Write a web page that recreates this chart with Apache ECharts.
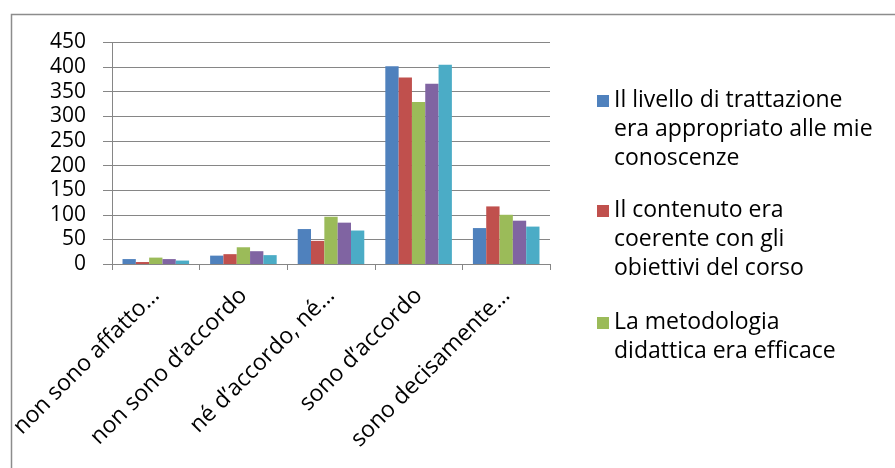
<!DOCTYPE html>
<html>
<head>
<meta charset="utf-8">
<script src="https://cdn.jsdelivr.net/npm/echarts@6/dist/echarts.min.js"></script>
<style>html,body{margin:0;padding:0;background:#fff}#c{width:895px;height:468px}</style>
</head>
<body>
<div id="c"></div>
<script>
var categories = ['non sono affatto…', 'non sono d’accordo', 'né d’accordo, né…', 'sono d’accordo', 'sono decisamente…'];
var seriesNames = [
  'Il livello di trattazione\nera appropriato alle mie\nconoscenze',
  'Il contenuto era\ncoerente con gli\nobiettivi del corso',
  'La metodologia\ndidattica era efficace',
  'Serie 4',
  'Serie 5'
];
var s1 = [10, 17, 71, 402, 73];
var s2 = [4, 20, 47, 379, 117];
var s3 = [13, 34, 96, 329, 100];
var s4 = [10, 26, 84, 366, 88];
var s5 = [7, 18, 68, 405, 76];
var yTicks = [0, 50, 100, 150, 200, 250, 300, 350, 400, 450];
var colors = ['#4F81BD', '#C0504D', '#9BBB59', '#8064A2', '#4BACC6'];
var values = [s1, s2, s3, s4, s5];

var FONT = 'Open Sans';
var chart = echarts.init(document.getElementById('c'), null, {renderer: 'canvas'});
var series = values.map(function (v, i) {
  return {
    name: seriesNames[i],
    type: 'bar',
    data: v,
    barGap: '0%',
    barCategoryGap: '24%',
    itemStyle: {color: colors[i]}
  };
});
function legendFor(i, top, spacer) {
  return {
    orient: 'vertical',
    left: 597, top: top,
    padding: 0,
    data: [seriesNames[i]],
    icon: 'rect',
    itemWidth: 12, itemHeight: 12,
    formatter: function (name) {
      return '{sp| }\n' + name.split('\n').map(function (l) { return '{t|' + l + '}'; }).join('\n');
    },
    textStyle: {
      fontFamily: FONT, fontSize: 23, lineHeight: 29, color: '#000',
      rich: {
        sp: {fontSize: 1, lineHeight: spacer},
        t: {fontFamily: FONT, fontSize: 23, lineHeight: 29, color: '#000'}
      }
    }
  };
}
chart.setOption({
  animation: false,
  color: colors,
  textStyle: {fontFamily: FONT},
  graphic: [{
    type: 'rect', left: 9, top: 12,
    shape: {width: 900, height: 480},
    style: {fill: 'none', stroke: '#8c8c8c', lineWidth: 1.5},
    silent: true, z: -1
  }],
  grid: {left: 112, right: 345, top: 42.5, bottom: 204, outerBoundsMode: 'none'},
  legend: [legendFor(0, 29.5, 56), legendFor(1, 139.5, 56), legendFor(2, 280.5, 27)],
  xAxis: {
    type: 'category',
    data: categories,
    axisLine: {lineStyle: {color: '#868686', width: 1}},
    axisTick: {show: true, length: 6, lineStyle: {color: '#868686'}},
    axisLabel: {rotate: 45, interval: 0, margin: 28, fontFamily: FONT, fontSize: 23, color: '#000'}
  },
  yAxis: {
    type: 'value',
    min: yTicks[0], max: yTicks[yTicks.length - 1], interval: 50,
    axisLine: {show: true, lineStyle: {color: '#868686', width: 1}},
    axisTick: {show: true, length: 9, lineStyle: {color: '#868686'}},
    splitLine: {lineStyle: {color: '#868686', width: 1}},
    axisLabel: {margin: 26, fontFamily: FONT, fontSize: 21, color: '#000'}
  },
  series: series
});
</script>
</body>
</html>
